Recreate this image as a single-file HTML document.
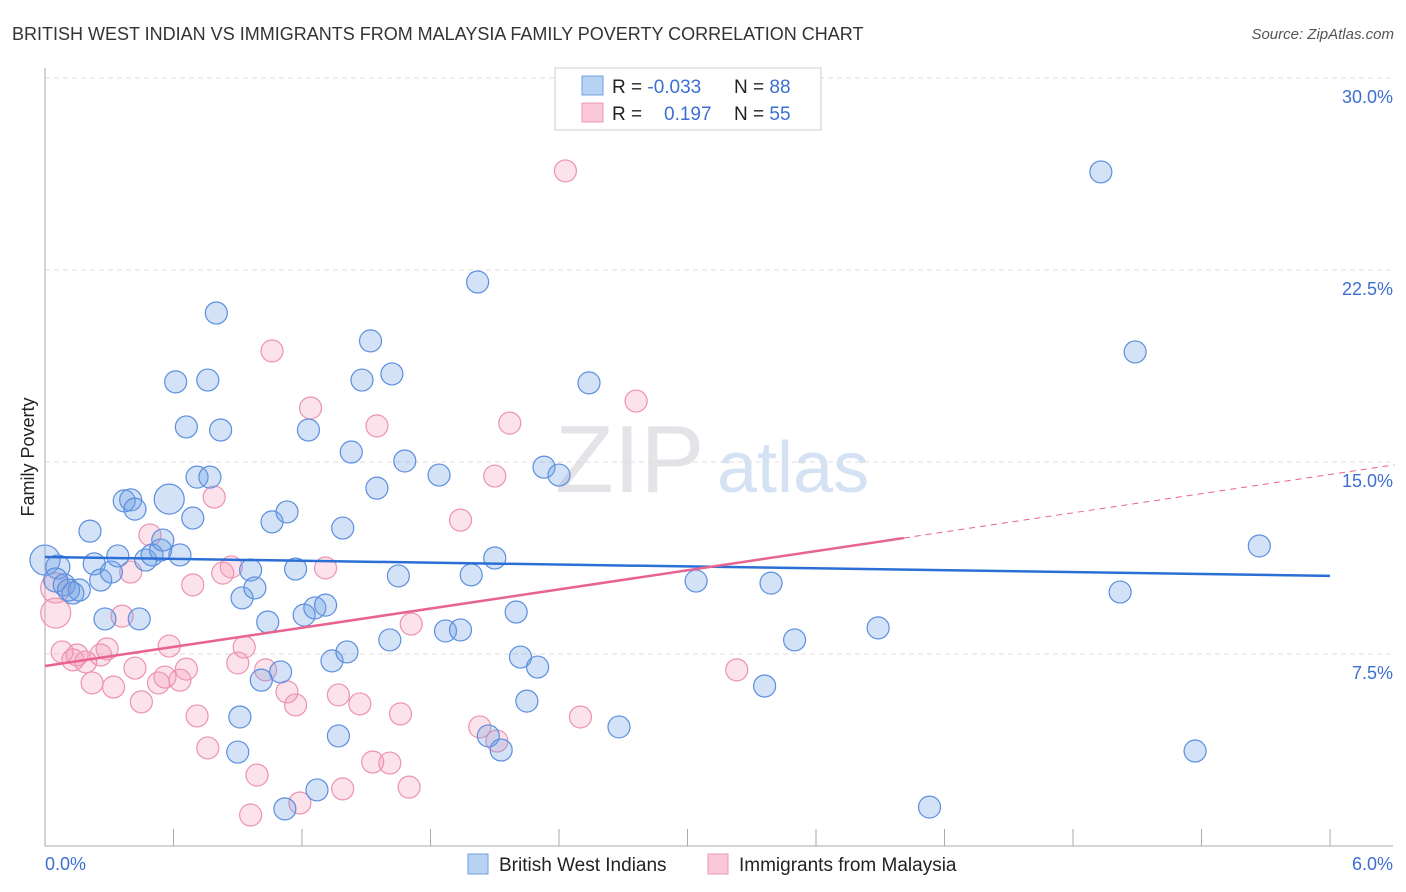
<!DOCTYPE html>
<html><head><meta charset="utf-8"><style>
body{margin:0;background:#fff;font-family:"Liberation Sans",sans-serif;}
#wrap{position:relative;width:1406px;height:892px;overflow:hidden;}
svg text{font-family:"Liberation Sans",sans-serif;}
</style></head><body>
<div id="wrap">
<svg id="svg" width="1406" height="892">
<text x="12" y="40" font-size="18" fill="#333">BRITISH WEST INDIAN VS IMMIGRANTS FROM MALAYSIA FAMILY POVERTY CORRELATION CHART</text>
<text x="1394" y="39" font-size="15" fill="#555" font-style="italic" text-anchor="end">Source: ZipAtlas.com</text>
<text x="34" y="457" font-size="18" fill="#222" text-anchor="middle" transform="rotate(-90 34 457)">Family Poverty</text>
<text x="555" y="492" font-size="96" fill="#e4e4e8" font-family="Liberation Serif">ZIP</text>
<text x="717" y="492" font-size="72" fill="#d4e2f4">atlas</text>
<g id="grid"></g><g id="axes"></g><g id="marks"></g><g id="lines"></g>
<g>
<rect x="555" y="68" width="266" height="62" fill="#fff" stroke="#ccc"/>
<rect x="582" y="76" width="21" height="19" fill="#b8d2f4" stroke="#6f9fe0"/>
<rect x="582" y="103" width="21" height="19" fill="#fac8d6" stroke="#ee9ab4"/>
<text x="612" y="93" font-size="19" fill="#222">R = <tspan fill="#3d6fd1">-0.033</tspan></text>
<text x="734" y="93" font-size="19" fill="#222">N = <tspan fill="#3d6fd1">88</tspan></text>
<text x="612" y="120" font-size="19" fill="#222">R = <tspan fill="#3d6fd1" x="664">0.197</tspan></text>
<text x="734" y="120" font-size="19" fill="#222">N = <tspan fill="#3d6fd1">55</tspan></text>
</g>
<g>
<rect x="468" y="854" width="20" height="20" fill="#b8d2f4" stroke="#6f9fe0"/>
<text x="499" y="871" font-size="19" fill="#222">British West Indians</text>
<rect x="708" y="854" width="20" height="20" fill="#fac8d6" stroke="#ee9ab4"/>
<text x="739" y="871" font-size="19" fill="#222">Immigrants from Malaysia</text>
</g>
</svg></div>
<script>
const blueX=[0.00,0.06,0.05,0.09,0.13,0.16,0.11,0.21,0.23,0.26,0.31,0.34,0.37,0.40,0.42,0.28,0.44,0.47,0.50,0.54,0.55,0.58,0.63,0.61,0.66,0.69,0.71,0.77,0.76,0.80,0.82,0.90,0.91,0.92,0.96,0.98,1.01,1.04,1.06,1.10,1.13,1.17,1.21,1.23,1.26,1.27,1.31,1.34,1.37,1.39,1.41,1.43,1.48,1.52,1.55,1.61,1.62,1.65,1.68,1.84,1.87,1.94,2.02,1.99,2.07,2.10,2.13,2.20,2.22,2.25,2.30,2.33,2.40,2.54,2.68,3.04,3.36,3.39,3.50,3.89,4.13,4.93,5.02,5.09,5.37,5.67,1.12];
const blueY=[11.17,10.90,10.39,10.20,9.88,10.00,10.00,12.30,11.02,10.39,10.70,11.33,13.48,13.52,13.16,8.87,8.87,11.17,11.37,11.56,11.95,13.55,11.37,18.13,16.37,12.81,14.41,14.41,18.20,20.82,16.25,3.67,5.04,9.69,10.78,10.08,6.48,8.75,12.66,6.80,13.05,10.82,9.02,16.25,9.30,2.19,9.41,7.23,4.30,12.42,7.58,15.39,18.20,19.73,13.98,8.05,18.44,10.55,15.04,14.49,8.40,8.44,22.03,10.59,4.30,11.25,3.75,9.14,7.38,5.66,6.99,14.80,14.49,18.09,4.65,10.35,6.25,10.27,8.05,8.52,1.52,26.33,9.92,19.30,3.71,11.72,1.45];
const pinkX=[0.05,0.05,0.08,0.15,0.13,0.19,0.22,0.26,0.29,0.32,0.36,0.40,0.42,0.45,0.49,0.53,0.56,0.58,0.63,0.66,0.69,0.71,0.76,0.79,0.83,0.87,0.90,0.93,0.96,0.99,1.03,1.06,1.13,1.17,1.19,1.24,1.31,1.37,1.39,1.47,1.53,1.55,1.61,1.66,1.70,1.71,1.94,2.03,2.10,2.11,2.17,2.43,2.50,2.76,3.23];
const pinkY=[10.08,9.10,7.58,7.46,7.27,7.19,6.37,7.46,7.70,6.21,8.98,10.70,6.95,5.63,12.15,6.37,6.60,7.81,6.48,6.91,10.20,5.08,3.83,13.63,10.66,10.90,7.15,7.77,1.21,2.77,6.88,19.34,6.02,5.51,1.68,17.11,10.86,5.90,2.23,5.55,3.28,16.41,3.24,5.16,2.30,8.67,12.73,4.65,14.45,4.10,16.52,26.37,5.04,17.38,6.88];
const yTicks=[7.5,15.0,22.5,30.0];
const xTickVals=[0.6,1.2,1.8,2.4,3.0,3.6,4.2,4.8,5.4,6.0];
const blueTrend=[11.29,10.55];
const pinkTrend=[7.03,1.247];
const NS='http://www.w3.org/2000/svg';
const sx=v=>45+v*214.17, sy=v=>846-v*25.6;
function mk(tag,attrs,parent){const e=document.createElementNS(NS,tag);for(const k in attrs)e.setAttribute(k,attrs[k]);document.getElementById(parent).appendChild(e);return e;}
yTicks.forEach(t=>{
 const l=mk('line',{x1:45,x2:1393,y1:sy(t),y2:sy(t),stroke:'#ddd','stroke-dasharray':'5,4'},'grid');
 
 
 const tx=mk('text',{x:1393,y:sy(t)+25,'font-size':18,fill:'#3d6fd1','text-anchor':'end'},'grid');
 tx.textContent=t.toFixed(1)+'%';
 
 
});
mk('line',{x1:45,x2:45,y1:68,y2:846,stroke:'#aaa'},'axes');
mk('line',{x1:45,x2:1393,y1:846,y2:846,stroke:'#aaa'},'axes');
xTickVals.forEach(t=>{
 const l=mk('line',{x1:sx(t),x2:sx(t),y1:829,y2:846,stroke:'#aaa'},'axes');
 
 
});
const x0=mk('text',{x:45,y:870,'font-size':18,fill:'#3d6fd1'},'axes');x0.textContent='0.0%';


const x1=mk('text',{x:1393,y:870,'font-size':18,fill:'#3d6fd1','text-anchor':'end'},'axes');x1.textContent='6.0%';


pinkX.forEach((v,i)=>{
 const c=mk('circle',{cx:sx(v),cy:sy(pinkY[i]),r:i<2?15:11,fill:'rgba(244,150,180,0.28)',stroke:'#ec93b0','stroke-width':1.2},'marks');
 
 
});
blueX.forEach((v,i)=>{
 const c=mk('circle',{cx:sx(v),cy:sy(blueY[i]),r:(i==0||i==21)?15:(i<3?12:11),fill:'rgba(110,160,230,0.3)',stroke:'#5b8fde','stroke-width':1.2},'marks');
 
 
});
const bl=mk('line',{x1:sx(0),y1:sy(blueTrend[0]),x2:sx(6),y2:sy(blueTrend[1]),stroke:'#2b6fd6','stroke-width':2.5},'lines');


const pe=4.01;
const pl=mk('line',{x1:sx(0),y1:sy(pinkTrend[0]),x2:sx(pe),y2:sy(pinkTrend[0]+pinkTrend[1]*pe),stroke:'#e8638f','stroke-width':2.5},'lines');


const pd=mk('line',{x1:sx(pe),y1:sy(pinkTrend[0]+pinkTrend[1]*pe),x2:sx(6.3),y2:sy(pinkTrend[0]+pinkTrend[1]*6.3),stroke:'#e8638f','stroke-width':1,'stroke-dasharray':'6,5'},'lines');


</script>
</body></html>
